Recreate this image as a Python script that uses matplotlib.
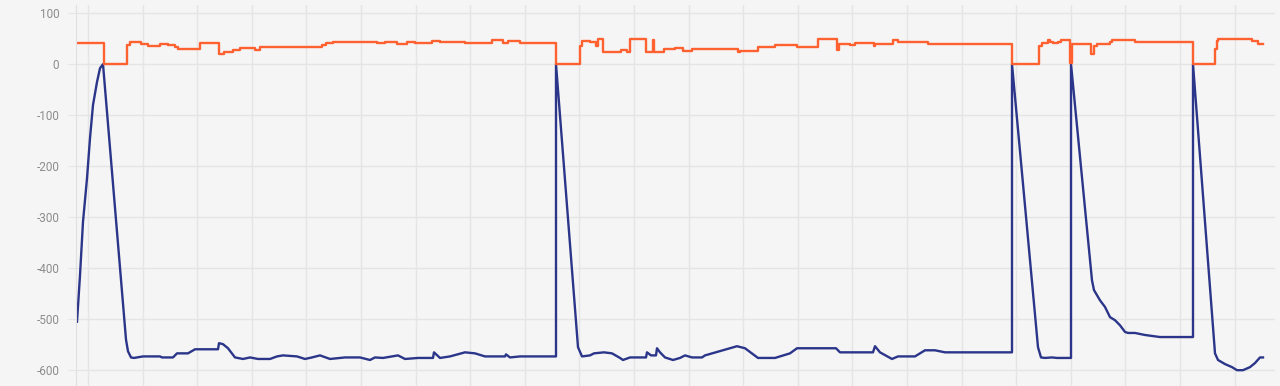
import numpy as np
import matplotlib.pyplot as plt

# sample index (time steps) and values
orange_x = [0, 27, 50, 53, 64, 71, 83, 91, 98, 101, 123, 142, 147, 156, 163, 168,
            178, 183, 245, 249, 256, 300, 308, 320, 330, 338, 355, 363, 388, 415,
            426, 431, 443, 479, 503, 505, 513, 519, 521, 526, 544, 550, 553, 569,
            576, 577, 587, 598, 606, 615, 661, 663, 681, 698, 720, 741, 760, 762,
            773, 778, 797, 798, 816, 821, 851, 935, 962, 965, 971, 973, 976, 981,
            984, 993, 995, 1014, 1017, 1020, 1033, 1035, 1048, 1058, 1116, 1138,
            1140, 1141, 1175, 1181, 1186]
orange_y = [42, 0, 37, 43, 39, 36, 40, 37, 33, 29, 41, 20, 24, 27, 32, 31,
            28, 34, 38, 42, 44, 41, 43, 40, 43, 41, 45, 43, 41, 48,
            42, 45, 42, 0, 35, 45, 43, 35, 50, 24, 27, 23, 50, 24,
            48, 24, 29, 31, 25, 29, 23, 26, 33, 37, 33, 50, 27, 39,
            37, 41, 35, 40, 47, 43, 40, 0, 35, 42, 47, 44, 42, 43,
            47, 2, 40, 20, 36, 40, 43, 47, 48, 44, 0, 30,
            45, 50, 45, 40, 40]

blue_x = [0, 3, 6, 10, 13, 16, 20, 23, 26, 49, 51, 54, 57, 66, 83, 85,
          96, 100, 111, 118, 141, 142, 146, 151, 158, 166, 173, 181, 193, 200,
          206, 220, 228, 235, 243, 253, 268, 283, 293, 298, 306, 321, 328, 341,
          356, 357, 363, 373, 388, 398, 408, 428, 429, 433, 443, 479, 479, 501,
          505, 513, 517, 527, 535, 543, 546, 553, 569, 570, 574, 579, 580, 583,
          588, 596, 603, 608, 615, 625, 628, 660, 668, 681, 698, 713, 720, 759,
          763, 796, 798, 803, 815, 821, 838, 848, 858, 868, 935, 935, 961, 964,
          968, 975, 980, 994, 994, 1015, 1017, 1023, 1028, 1033, 1038, 1043,
          1048, 1051, 1058, 1068, 1083, 1116, 1116, 1138, 1141, 1148, 1155,
          1160, 1166, 1173, 1178, 1183, 1186]
blue_y = [-505, -414, -309, -224, -145, -80, -35, -8, 0, -540, -563, -575, -576,
          -573, -573, -575, -575, -567, -567, -559, -559, -547, -549,
          -557, -575, -578, -575, -578, -578, -573, -571, -573, -578, -575, -571,
          -578, -575, -575, -580, -575, -576, -571, -578, -576, -576, -565, -576,
          -573, -565, -567, -573, -573, -569, -575, -573, -573, 0, -555, -573,
          -571, -567, -565, -567, -576, -580, -575, -575, -565, -571, -571, -557,
          -565, -575, -580, -576, -571, -575, -575, -571, -553, -557, -576, -576,
          -567, -557, -557, -565, -565, -553, -565, -578, -573, -573, -561, -561,
          -565, -565, 0, -555, -575, -576, -575, -576, -576, 0, -424, -443, -463,
          -476, -496, -502, -512, -525, -527, -527, -531, -535, -535, 0, -567,
          -580, -588, -594, -600, -600, -594, -586, -575, -575]

y_ticks = [100, 0, -100, -200, -300, -400, -500, -600]

bg = "#f5f5f5"
grid_c = "#e5e5e5"

fig = plt.figure(figsize=(12.8, 3.86), dpi=100, facecolor=bg)
ax = fig.add_axes([76 / 1280, 0, 1199 / 1280, 381 / 386], facecolor=bg)

ax.plot(blue_x, blue_y, color="#2b3589", lw=1.7, solid_joinstyle="round")
ax.plot(orange_x, orange_y, color="#ff6131", lw=1.7, drawstyle="steps-post")

ax.set_xlim(-1, 1198)
ax.set_ylim(-631, 116)
ax.set_yticks(y_ticks)
ax.set_yticklabels([str(v) for v in y_ticks])
ax.set_xticks(np.arange(11, 1198, 54.6))
ax.set_xticklabels([])

ax.grid(True, color=grid_c, lw=1)
ax.set_axisbelow(True)
for s in ["top", "right", "bottom"]:
    ax.spines[s].set_visible(False)
ax.spines["left"].set_color("#e0e0e0")
ax.tick_params(axis="y", length=6, color=grid_c, pad=6, labelsize=8.5,
               labelcolor="#8c8c8c")
ax.tick_params(axis="x", length=0)
for lab in ax.get_yticklabels():
    lab.set_fontfamily("Roboto")

fig.savefig("out.png", dpi=100, facecolor=bg)
